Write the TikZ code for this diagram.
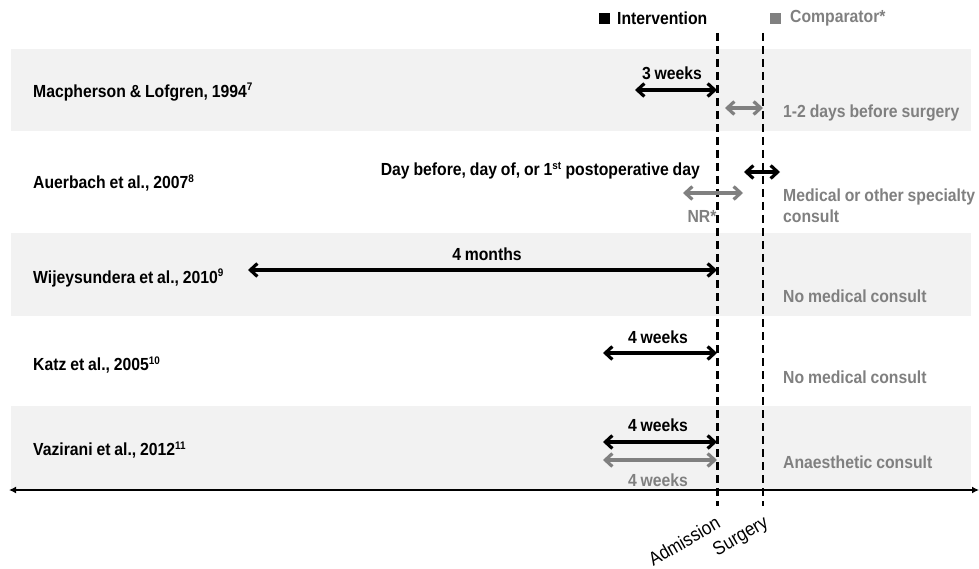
\documentclass[tikz,border=0pt]{standalone}
\usepackage{fontspec}
\setmainfont{Liberation Sans}[FakeStretch=0.9]
\usetikzlibrary{arrows.meta}
\definecolor{band}{RGB}{242,242,242}
\definecolor{cgray}{RGB}{128,128,128}
\newcommand{\tightsp}{\spaceskip=0.22em plus 0.05em minus 0.02em\relax}
\newcommand{\supr}[1]{\textsuperscript{\fontsize{11}{11}\selectfont #1}}
\begin{document}
\begin{tikzpicture}[x=1pt,y=-1pt,
  lbl/.style={font=\fontsize{17.5}{21}\selectfont\bfseries\tightsp, inner sep=0pt},
  glbl/.style={lbl, text=cgray},
  tiplbl/.style={font=\fontsize{19}{21}\selectfont, inner sep=0pt, rotate=30},
  iarr/.style={draw=black, line width=3.2pt, {Straight Barb[length=7pt,width=13pt]}-{Straight Barb[length=7pt,width=13pt]}},
  carr/.style={draw=cgray, line width=3.2pt, {Straight Barb[length=7pt,width=13pt]}-{Straight Barb[length=7pt,width=13pt]}},
  vline/.style={draw=black, line width=2.2pt, dash pattern=on 8pt off 5pt},
]
\useasboundingbox (0,0) rectangle (979,569);
% bands
\fill[band] (11,49) rectangle (971,131);
\fill[band] (11,233) rectangle (971,316);
\fill[band] (11,406) rectangle (971,490);

% legend
\fill[black] (599,13) rectangle (610,24);
\node[lbl, anchor=west] (leg1) at (617,18.5) {Intervention};
\fill[cgray] (770,13) rectangle (781,24);
\node[glbl, anchor=west] (leg2) at (790,18.5) {Comparator*};

% study names
\node[lbl, anchor=west] (s1) at (33,92) {Macpherson \& Lofgren, 1994\supr{7}};
\node[lbl, anchor=west] (s2) at (33,183) {Auerbach et al., 2007\supr{8}};
\node[lbl, anchor=west] (s3) at (33,278) {Wijeysundera et al., 2010\supr{9}};
\node[lbl, anchor=west] (s4) at (33,365) {Katz et al., 2005\supr{10}};
\node[lbl, anchor=west] (s5) at (33,450) {Vazirani et al., 2012\supr{11}};

% axis
\coordinate (axL) at (9,490);
\coordinate (axR) at (979,490);
\draw[line width=2pt, {Latex[length=7pt,width=7pt]}-{Latex[length=7pt,width=7pt]}] (axL) -- (axR);

% dashed lines
\coordinate (admT) at (717.5,33);
\coordinate (admB) at (717.5,506);
\coordinate (surT) at (763,33);
\coordinate (surB) at (763,506);
\draw[vline] (admT) -- (admB);
\draw[vline] (surT) -- (surB);
\node[tiplbl] (adm) at (684,541) {Admission};
\node[tiplbl] (sur) at (741,537) {Surgery};

% row 1
\coordinate (a1L) at (635,90);
\coordinate (a1R) at (717,90);
\draw[iarr] (a1L) -- (a1R);
\node[lbl] (t1) at (672,73) {3 weeks};
\coordinate (c1L) at (725,108);
\coordinate (c1R) at (763,108);
\draw[carr] (c1L) -- (c1R);
\node[glbl, anchor=west] (g1) at (783,113) {1-2 days before surgery};

% row 2
\node[lbl, anchor=east] (t2) at (700,171) {Day before, day of, or 1\supr{st} postoperative day};
\coordinate (a2L) at (744,172);
\coordinate (a2R) at (780,172);
\draw[iarr] (a2L) -- (a2R);
\coordinate (c2L) at (683,193);
\coordinate (c2R) at (743,193);
\draw[carr] (c2L) -- (c2R);
\node[glbl] (nr) at (702,216) {NR*};
\node[glbl, anchor=west, align=left] (g2) at (783,206) {Medical or other specialty\\consult};

% row 3
\coordinate (a3L) at (248,270);
\coordinate (a3R) at (717,270);
\draw[iarr] (a3L) -- (a3R);
\node[lbl] (t3) at (487,254) {4 months};
\node[glbl, anchor=west] (g3) at (783,296) {No medical consult};

% row 4
\coordinate (a4L) at (603,353);
\coordinate (a4R) at (717,353);
\draw[iarr] (a4L) -- (a4R);
\node[lbl] (t4) at (658,337) {4 weeks};
\node[glbl, anchor=west] (g4) at (783,377) {No medical consult};

% row 5
\coordinate (a5L) at (603,442);
\coordinate (a5R) at (717,442);
\draw[iarr] (a5L) -- (a5R);
\node[lbl] (t5) at (658,425) {4 weeks};
\coordinate (c5L) at (603,460);
\coordinate (c5R) at (717,460);
\draw[carr] (c5L) -- (c5R);
\node[glbl] (t5g) at (658,480) {4 weeks};
\node[glbl, anchor=west] (g5) at (783,462) {Anaesthetic consult};
\end{tikzpicture}
\end{document}
